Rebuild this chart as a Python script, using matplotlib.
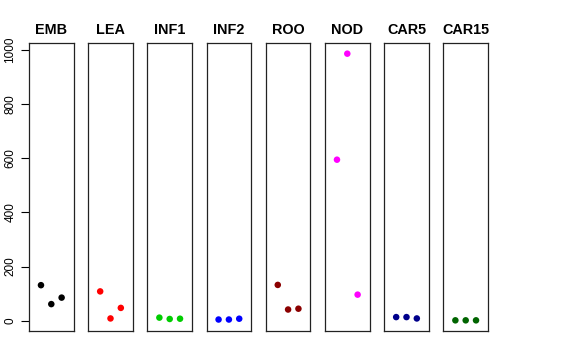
import matplotlib
matplotlib.use("Agg")
import matplotlib.pyplot as plt

plt.rcParams['font.family'] = ['Liberation Sans', 'DejaVu Sans']

tissues = ["EMB", "LEA", "INF1", "INF2", "ROO", "NOD", "CAR5", "CAR15"]
colors = ["black", "#FF0000", "#00CD00", "#0000FF", "#8B0000", "#FF00FF", "#00008B", "#006400"]
reps = [1, 2, 3]
values = [
    [131, 61, 85],
    [108, 8, 47],
    [11, 6, 7],
    [4, 4, 7],
    [132, 41, 44],
    [595, 987, 96],
    [13, 13, 8],
    [1, 1, 1],
]
yticks = [0, 200, 400, 600, 800, 1000]

W, H = 576, 360
fig = plt.figure(figsize=(W / 100, H / 100), dpi=100)

# shared y range, padded like R's default 4%
lo = min(min(v) for v in values)
hi = max(max(v) for v in values)
ext = (hi - lo) * 0.04

left0, pitch, width = 29, 59.2, 44.6
bottom, top = 331, 43

for i, (name, col, vals) in enumerate(zip(tissues, colors, values)):
    ax = fig.add_axes([(left0 + i * pitch) / W, (H - bottom) / H,
                       width / W, (bottom - top) / H])
    ax.scatter(reps, vals, s=22, color=col, edgecolors='none', zorder=3)
    ax.set_xlim(-0.16, 4.16)
    ax.set_ylim(lo - ext, hi + ext)
    ax.set_xticks([])
    for sp in ax.spines.values():
        sp.set_linewidth(0.9)
        sp.set_color('#222222')
    ax.set_title(name, fontsize=10.4, fontweight='bold', pad=6.5)
    if i == 0:
        ax.set_yticks(yticks)
        ax.set_yticklabels([str(t) for t in yticks], rotation=90, va='center',
                           fontsize=8.5)
        ax.tick_params(axis='y', length=6, width=0.8, pad=3)
    else:
        ax.set_yticks([])

fig.savefig("out.png", dpi=100)
